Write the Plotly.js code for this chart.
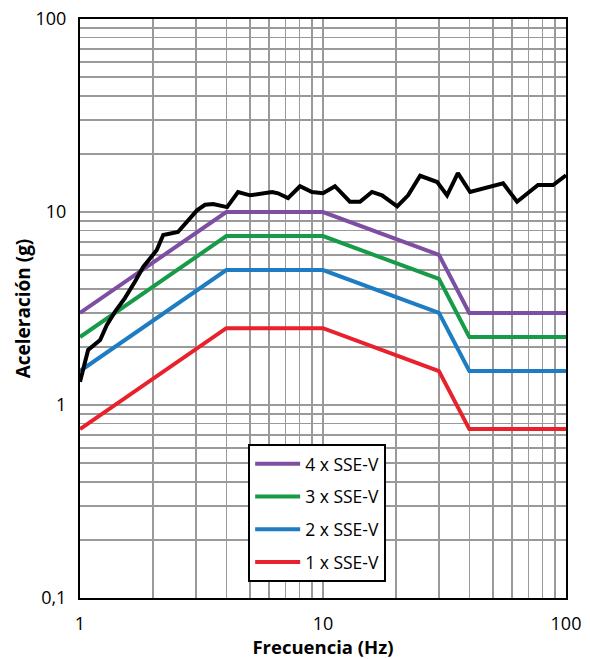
<!DOCTYPE html>
<html>
<head>
<meta charset="utf-8">
<script src="https://cdn.plot.ly/plotly-3.0.1.min.js"></script>
<style>html,body{margin:0;padding:0;background:#fff;}#chart{width:590px;height:659px;}</style>
</head>
<body>
<div id="chart"></div>
<script>
// Envelope break frequencies (Hz)
const envFreq = [1, 4, 10, 30, 40, 100];
// Envelope accelerations (g)
const sse1 = [0.75, 2.5, 2.5, 1.5, 0.75, 0.75];
const sse2 = [1.5, 5, 5, 3, 1.5, 1.5];
const sse3 = [2.25, 7.5, 7.5, 4.5, 2.25, 2.25];
const sse4 = [3, 10, 10, 6, 3, 3];
// Measured response spectrum
const respFreq = [1, 1.08, 1.21, 1.29, 1.39, 1.53, 1.68, 1.82, 2.07, 2.2, 2.53, 2.78, 3.03, 3.27, 3.53, 4.03, 4.47, 5.01, 6.17, 6.53, 7.18, 8.04, 9.01, 10, 11.2, 12.9, 14.2, 15.9, 17.5, 20.2, 22.4, 25.1, 29.5, 32.4, 35.9, 40.3, 55.1, 62.9, 76.7, 88.5, 100];
const respAcc = [1.32, 1.93, 2.17, 2.6, 3.03, 3.58, 4.34, 5.19, 6.35, 7.6, 7.88, 9.09, 10.2, 10.9, 11.0, 10.6, 12.7, 12.2, 12.7, 12.5, 11.8, 13.6, 12.7, 12.5, 13.6, 11.3, 11.3, 12.7, 12.2, 10.7, 12.2, 15.4, 14.3, 12.2, 15.9, 12.7, 14.1, 11.3, 13.8, 13.8, 15.5];
// Labels
const seriesNames = ['4 x SSE-V', '3 x SSE-V', '2 x SSE-V', '1 x SSE-V'];
const seriesColors = ['#7d4ea1', '#179b48', '#1e7cc3', '#e8222c'];
const xTickVals = [1,2,3,4,5,6,7,8,9,10,20,30,40,50,60,70,80,90,100];
const xTickText = ['1','','','','','','','','','10','','','','','','','','','100'];
const yTickVals = [0.1,0.2,0.3,0.4,0.5,0.6,0.7,0.8,0.9,1,2,3,4,5,6,7,8,9,10,20,30,40,50,60,70,80,90,100];
const yTickText = ['0,1','','','','','','','','','1','','','','','','','','','10','','','','','','','','','100'];

const envSeries = [sse4, sse3, sse2, sse1];
const traces = envSeries.map((vals, i) => ({
  x: envFreq, y: vals, type: 'scatter', mode: 'lines',
  name: seriesNames[i], legendgroup: 'g' + i,
  line: {color: seriesColors[i], width: 4}
}));
traces.push({
  x: respFreq, y: respAcc, type: 'scatter', mode: 'lines',
  showlegend: false, line: {color: '#000000', width: 4}
});

const font = 'Open Sans, sans-serif';
const layout = {
  width: 590, height: 659,
  margin: {l: 80, r: 24, t: 19, b: 61},
  paper_bgcolor: '#ffffff', plot_bgcolor: '#ffffff',
  font: {family: font, color: '#000', size: 18},
  showlegend: true,
  xaxis: {
    type: 'log', range: [0, 2],
    tickvals: xTickVals, ticktext: xTickText,
    ticks: '', ticklabelstandoff: 8,
    showgrid: true, gridcolor: '#9a9a9a', gridwidth: 1.5,
    showline: true, linecolor: '#000', linewidth: 2, mirror: true,
    tickfont: {size: 18, family: font},
    title: {text: '<b>Frecuencia (Hz)</b>', font: {size: 18.5, family: font}, standoff: 4}
  },
  yaxis: {
    type: 'log', range: [-1, 2],
    tickvals: yTickVals, ticktext: yTickText,
    ticks: '', ticklabelstandoff: 8,
    showgrid: true, gridcolor: '#9a9a9a', gridwidth: 1.5,
    showline: true, linecolor: '#000', linewidth: 2, mirror: true,
    tickfont: {size: 18, family: font},
    title: {text: '<b>Aceleración (g)</b>', font: {size: 19, family: font}, standoff: 0}
  },
  legend: {
    x: 0.346, y: 0.266, xanchor: 'left', yanchor: 'top',
    bgcolor: '#ffffff', bordercolor: '#000', borderwidth: 2,
    font: {size: 17.5, family: font},
    tracegroupgap: 7, traceorder: 'grouped', itemwidth: 45
  }
};

Plotly.newPlot('chart', traces, layout, {displayModeBar: false, staticPlot: true});
</script>
</body>
</html>
